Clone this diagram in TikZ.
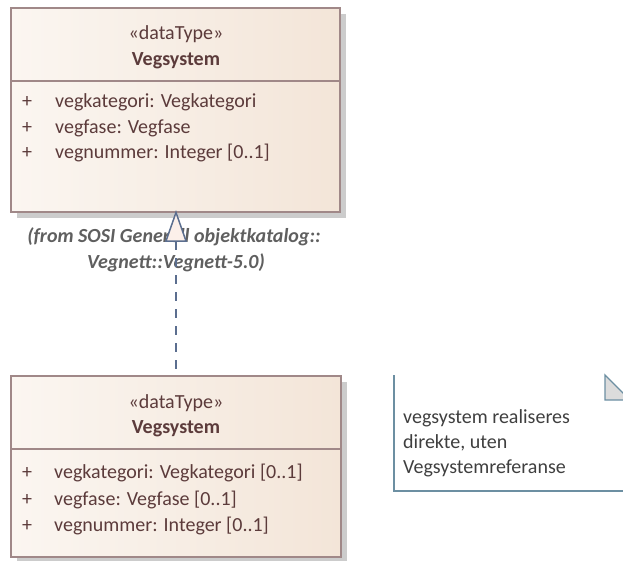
\documentclass[tikz,border=0pt]{standalone}
\usepackage{fontspec}
\setmainfont{Carlito}
\usetikzlibrary{shadows}

\definecolor{boxline}{HTML}{A08888}
\definecolor{boxfillL}{HTML}{FBF6F1}
\definecolor{boxfillR}{HTML}{F3E5D8}
\definecolor{boxtext}{HTML}{5C3B3B}
\definecolor{linkblue}{HTML}{5B6E8F}
\definecolor{trifill}{HTML}{FCF0EA}
\definecolor{notetext}{HTML}{3F3F3F}
\definecolor{noteline}{HTML}{6C8FA2}
\definecolor{notefold}{HTML}{DCDCDC}
\definecolor{fromtext}{HTML}{5F5F5F}

\begin{document}
\begin{tikzpicture}[x=1pt, y=-1pt,
  font=\fontsize{20}{24}\selectfont,
  classbox/.style={draw=boxline, line width=1.6pt, inner sep=0pt,
    left color=boxfillL, right color=boxfillR,
    drop shadow={shadow xshift=6pt, shadow yshift=-6pt, fill=black!20, opacity=1}},
  divider/.style={draw=boxline, line width=1.4pt},
  stereo/.style={text=boxtext, anchor=base, inner sep=0pt},
  title/.style={text=boxtext, anchor=base, inner sep=0pt, font=\fontsize{20}{24}\selectfont\bfseries},
  attr/.style={text=boxtext, anchor=base west, inner sep=0pt},
  fromlabel/.style={text=fromtext, anchor=base, inner sep=0pt, font=\fontsize{20}{24}\selectfont\bfseries\itshape},
  realize/.style={draw=linkblue, line width=1.5pt},
  notebody/.style={text=notetext, anchor=base west, inner sep=0pt},
]
\useasboundingbox (0,0) rectangle (623,560);
\clip (0,0) rectangle (623,560);

% upper data type
\node[classbox, minimum width=329pt, minimum height=204pt] (top) at (175.5,110) {};
\draw[divider] (top.west |- 0,81) -- (top.east |- 0,81);
\node[stereo] (topst) at (176,39) {«dataType»};
\node[title] (toptt) at (176,65) {Vegsystem};
\node[attr] (tp1) at (22,107) {+};
\node[attr] (ta1) at (55,107) {vegkategori: Vegkategori};
\node[attr] (tp2) at (22,133) {+};
\node[attr] (ta2) at (55,133) {vegfase: Vegfase};
\node[attr] (tp3) at (22,158) {+};
\node[attr] (ta3) at (55,158) {vegnummer: Integer [0..1]};

% package origin
\node[fromlabel] (from1) at (174,242) {(from SOSI Generell objektkatalog::};
\node[fromlabel] (from2) at (176,268) {Vegnett::Vegnett-5.0)};

% lower data type
\node[classbox, minimum width=330pt, minimum height=181pt] (low) at (176,466.5) {};
\draw[divider] (low.west |- 0,449) -- (low.east |- 0,449);
\node[stereo] (lowst) at (176,408) {«dataType»};
\node[title] (lowtt) at (176,433) {Vegsystem};
\node[attr] (lp1) at (22,478) {+};
\node[attr] (la1) at (54,478) {vegkategori: Vegkategori [0..1]};
\node[attr] (lp2) at (22,505) {+};
\node[attr] (la2) at (54,505) {vegfase: Vegfase [0..1]};
\node[attr] (lp3) at (22,531) {+};
\node[attr] (la3) at (54,531) {vegnummer: Integer [0..1]};

% realisation: dashed line with hollow triangle
\coordinate (apex) at (176,212.5);
\coordinate (tbase) at (176,241);
\draw[realize, dash pattern=on 9pt off 8pt] (tbase) -- (low.north);
\filldraw[realize, fill=trifill, line join=miter] (apex) -- ([xshift=10pt]tbase) -- ([xshift=-10pt]tbase) -- cycle;

% note
\coordinate (noteA) at (394,375);
\coordinate (noteB) at (394,491);
\coordinate (noteC) at (640,491);
\draw[noteline, line width=1.4pt] (noteA) -- (noteB) -- (noteC);
\coordinate (foldA) at (605,375);
\coordinate (foldB) at (605,400);
\coordinate (foldC) at (630,400);
\filldraw[fill=notefold, draw=noteline, line width=1.4pt] (foldA) -- (foldB) -- (foldC) -- cycle;
\node[notebody] (n1) at (403,423) {vegsystem realiseres};
\node[notebody] (n2) at (403,448) {direkte, uten};
\node[notebody] (n3) at (403,473) {Vegsystemreferanse};
\end{tikzpicture}
\end{document}
